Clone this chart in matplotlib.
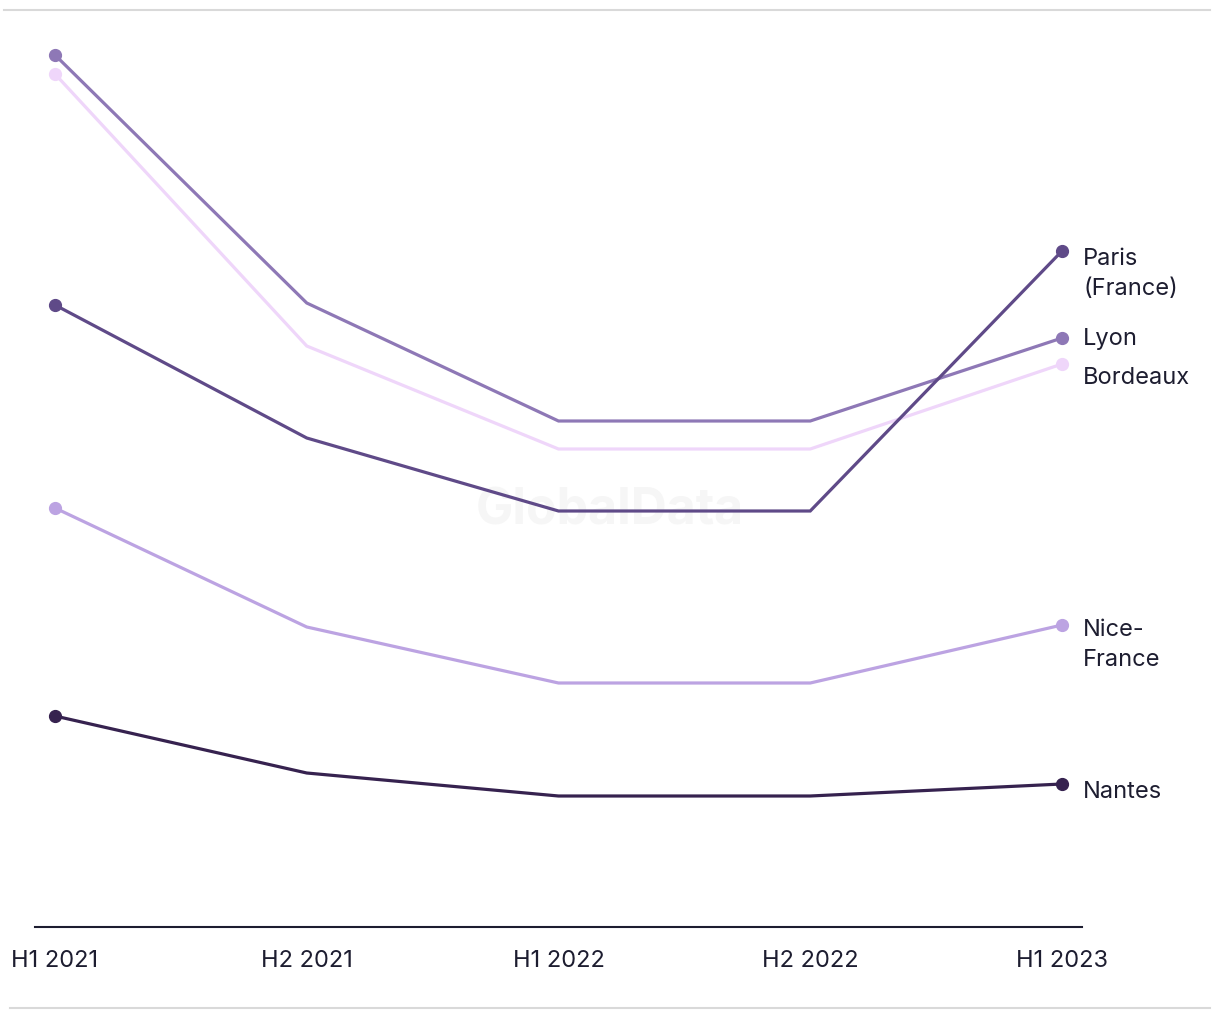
import matplotlib.pyplot as plt
from matplotlib.lines import Line2D

# half-year periods and index values (no y scale shown)
periods = ['H1 2021', 'H2 2021', 'H1 2022', 'H2 2022', 'H1 2023']
lyon = [87.2, 62.4, 50.6, 50.6, 58.9]
bordeaux = [85.3, 58.1, 47.8, 47.8, 56.3]
paris = [62.2, 48.9, 41.6, 41.6, 67.6]
nice = [41.9, 30.0, 24.4, 24.4, 30.2]
nantes = [21.1, 15.4, 13.1, 13.1, 14.3]

labels = ['Lyon', 'Bordeaux', 'Paris\n(France)', 'Nice-\nFrance', 'Nantes']
series = [lyon, bordeaux, paris, nice, nantes]
colors = ['#8e78b6', '#efd6fa', '#5f4a88', '#bca3e2', '#36224f']
# label offsets (pixels below the end point)
offsets = [0, 13, 22, 19, 7]

plt.rcParams['font.family'] = ['Inter', 'DejaVu Sans']
txt = '#1d1d30'

fig = plt.figure(figsize=(12.2, 10.2), dpi=100)
ax = fig.add_axes([35 / 1220, 92 / 1020, 1047 / 1220, 916 / 1020])

x = list(range(len(periods)))
# plot lighter lines first so darker ones sit on top where they cross
order = [1, 3, 0, 2, 4]
for i in order:
    ys = series[i]
    ax.plot(x, ys, color=colors[i], lw=2.3, solid_joinstyle='miter', zorder=3)
    ax.plot([x[0], x[-1]], [ys[0], ys[-1]], 'o', color=colors[i], ms=8.5, zorder=4)
    ax.annotate(labels[i], (x[-1], ys[-1]), xytext=(21, -offsets[i]),
                textcoords='offset pixels', ha='left', va='center',
                fontsize=17, color=txt, linespacing=1.45)

ax.text(0.549, 0.455, 'GlobalData', transform=ax.transAxes, fontsize=36,
        fontweight='bold', color='#f6f6f6', ha='center', va='center', zorder=1)

ax.set_xlim(-20 / 251.75, 4 + 20 / 251.75)
ax.set_ylim(0, 91.6)
ax.set_xticks(x)
ax.set_xticklabels(periods, fontsize=17, color=txt)
ax.set_yticks([])
ax.tick_params(axis='x', length=0, pad=16)
for s in ['top', 'right', 'left']:
    ax.spines[s].set_visible(False)
ax.spines['bottom'].set_color(txt)
ax.spines['bottom'].set_linewidth(1.5)

fig.add_artist(Line2D([4 / 1220, 1210 / 1220], [1 - 11 / 1020] * 2,
                      color='#d9d9d9', lw=1.5))
fig.add_artist(Line2D([10 / 1220, 1210 / 1220], [1 - 1009 / 1020] * 2,
                      color='#d9d9d9', lw=1.5))

fig.savefig('out.png', dpi=100)
